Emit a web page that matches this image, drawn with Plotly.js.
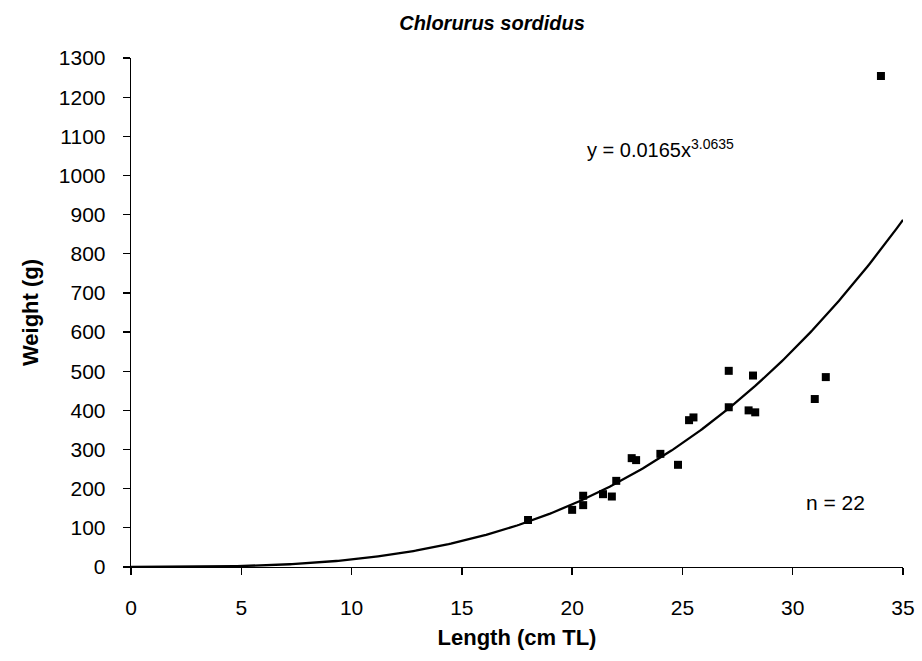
<!DOCTYPE html>
<html>
<head>
<meta charset="utf-8">
<script src="https://cdn.plot.ly/plotly-3.0.1.min.js"></script>
<style>html,body{margin:0;padding:0;background:#fff;}#chart{width:922px;height:661px;}</style>
</head>
<body>
<div id="chart"></div>
<script>
// Observed data: length (cm TL) and weight (g)
var lengthCm = [18.0, 20.0, 20.5, 20.5, 21.4, 21.8, 22.0, 22.7, 22.9, 24.0, 24.8, 25.3, 25.5, 27.1, 27.1, 28.0, 28.2, 28.3, 31.0, 31.5, 34.0];
var weightG  = [120, 146, 182, 158, 186, 180, 220, 278, 273, 289, 261, 375, 382, 408, 501, 400, 489, 395, 429, 485, 1254];

// Power trendline shown on the chart: y = a * x^b
var trendA = 0.0165;
var trendB = 3.0635;
var xTicks = [0, 5, 10, 15, 20, 25, 30, 35];
var yTicks = [0, 100, 200, 300, 400, 500, 600, 700, 800, 900, 1000, 1100, 1200, 1300];

var fitX = [], fitY = [];
for (var i = 0; i <= 350; i++) {
  var xv = i / 10;
  fitX.push(xv);
  fitY.push(trendA * Math.pow(xv, trendB));
}

var font = 'Liberation Sans, Arial, sans-serif';

var traces = [
  {
    x: fitX, y: fitY, mode: 'lines', type: 'scatter',
    line: {color: '#000', width: 2.3}, hoverinfo: 'skip', showlegend: false
  },
  {
    x: lengthCm, y: weightG, mode: 'markers', type: 'scatter',
    marker: {symbol: 'square', color: '#000', size: 8}, showlegend: false
  }
];

var layout = {
  width: 922, height: 661,
  margin: {l: 131, r: 19, t: 58, b: 94},
  paper_bgcolor: '#fff', plot_bgcolor: '#fff',
  font: {family: font, color: '#000'},
  title: {
    text: '<b><i>Chlorurus sordidus</i></b>',
    font: {family: font, size: 20, color: '#000'},
    x: 0.4676, xref: 'paper', xanchor: 'center', y: 0.965, yanchor: 'middle'
  },
  xaxis: {
    range: [0, 35], tickvals: xTicks, ticktext: xTicks.map(String),
    showgrid: false, zeroline: false, showline: true, linecolor: '#000', linewidth: 1.3,
    ticks: 'outside', ticklen: 7, tickcolor: '#000', tickwidth: 1.3, ticklabelstandoff: 14,
    tickfont: {family: font, size: 21, color: '#000'},
    title: {text: '<b>Length (cm TL)</b>', font: {family: font, size: 22, color: '#000'}, standoff: 12}
  },
  yaxis: {
    range: [0, 1300], tickvals: yTicks, ticktext: yTicks.map(String),
    showgrid: false, zeroline: false, showline: true, linecolor: '#000', linewidth: 1.3,
    ticks: 'outside', ticklen: 7, tickcolor: '#000', tickwidth: 1.3, ticklabelstandoff: 13,
    tickfont: {family: font, size: 21, color: '#000'},
    title: {text: '<b>Weight (g)</b>', font: {family: font, size: 22, color: '#000'}, standoff: 14}
  },
  annotations: [
    {
      x: 20.58, y: 1068, xref: 'x', yref: 'y', xanchor: 'left', yanchor: 'middle',
      text: 'y = 0.0165x<sup>3.0635</sup>', showarrow: false,
      font: {family: font, size: 20, color: '#000'}
    },
    {
      x: 31.94, y: 166, xref: 'x', yref: 'y', xanchor: 'center', yanchor: 'middle',
      text: 'n = 22', showarrow: false,
      font: {family: font, size: 21, color: '#000'}
    }
  ]
};

Plotly.newPlot('chart', traces, layout, {displayModeBar: false, staticPlot: true});
</script>
</body>
</html>
